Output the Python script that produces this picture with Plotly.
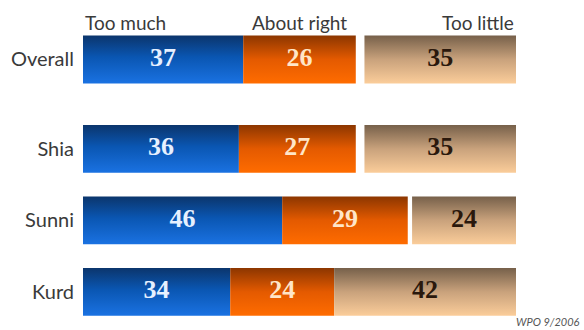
import plotly.graph_objects as go

# Survey responses (percent)
groups = ["Overall", "Shia", "Sunni", "Kurd"]
too_much = [37, 36, 46, 34]
about_right = [26, 27, 29, 24]
too_little = [35, 35, 24, 42]
series_names = ["Too much", "About right", "Too little"]
source_note = "WPO 9/2006"

# Vertical layout of the rows (extra gap after the overall row)
row_pos = [0, -1.25, -2.25, -3.25]
half_h = 0.335

# Gradient fills: bottom colour -> top colour
grad_blue = [[0, "#1a72e2"], [0.55, "#0a56b2"], [1, "#0b356c"]]
grad_orange = [[0, "#ff6c00"], [0.5, "#e45a00"], [1, "#8c3600"]]
grad_tan = [[0, "#fbcd9a"], [0.5, "#c9a27c"], [1, "#76604a"]]

fig = go.Figure()


def add_segment(x0, x1, yc, scale):
    fig.add_trace(go.Scatter(
        x=[x0, x1, x1, x0, x0],
        y=[yc - half_h, yc - half_h, yc + half_h, yc + half_h, yc - half_h],
        mode="lines", fill="toself",
        line=dict(width=0),
        fillgradient=dict(type="vertical", colorscale=scale),
        hoverinfo="skip", showlegend=False,
    ))


label_x, label_y, label_t, label_c = [], [], [], []
for i, g in enumerate(groups):
    yc = row_pos[i]
    a0, a1 = 0, too_much[i]
    b0, b1 = a1, a1 + about_right[i]
    c0, c1 = 100 - too_little[i], 100
    add_segment(a0, a1, yc, grad_blue)
    add_segment(b0, b1, yc, grad_orange)
    add_segment(c0, c1, yc, grad_tan)
    for (s, e, v, col) in [(a0, a1, too_much[i], "#e6f0ff"),
                           (b0, b1, about_right[i], "#ffe6c8"),
                           (c0, c1, too_little[i], "#2a180c")]:
        label_x.append((s + e) / 2)
        label_y.append(yc)
        label_t.append(str(v))
        label_c.append(col)

fig.add_trace(go.Scatter(
    x=label_x, y=label_y, text=label_t, mode="text",
    textfont=dict(family="Liberation Serif", size=26, color=label_c, weight="bold"),
    textposition="middle center",
    hoverinfo="skip", showlegend=False,
))

# Column headers over the first row
hdr_font = dict(family="Lato", size=19, color="#3a3a3a")
fig.add_annotation(x=0, y=row_pos[0] + half_h, text=series_names[0],
                   xanchor="left", yanchor="bottom", showarrow=False, font=hdr_font, yshift=0)
fig.add_annotation(x=too_much[0] + about_right[0] / 2, y=row_pos[0] + half_h,
                   text=series_names[1], xanchor="center", yanchor="bottom",
                   showarrow=False, font=hdr_font, yshift=0)
fig.add_annotation(x=100, y=row_pos[0] + half_h, text=series_names[2],
                   xanchor="right", yanchor="bottom", showarrow=False, font=hdr_font, yshift=0)

fig.add_annotation(x=1, y=0, xref="paper", yref="paper", text=source_note,
                   xanchor="right", yanchor="bottom", showarrow=False,
                   font=dict(family="Lato", size=11, color="#555555", style="italic"),
                   xshift=66)

fig.update_layout(
    width=584, height=330,
    margin=dict(l=83, r=68, t=0, b=0),
    paper_bgcolor="white", plot_bgcolor="white",
    xaxis=dict(range=[0, 100], visible=False, fixedrange=True),
    yaxis=dict(range=[-3.783, 0.832], fixedrange=True,
               tickvals=row_pos, ticktext=groups, ticks="",
               showgrid=False, zeroline=False, showline=False,
               tickfont=dict(family="Lato", size=20, color="#3a3a3a"),
               ticklabelstandoff=8),
)

fig.write_html("out.html")
